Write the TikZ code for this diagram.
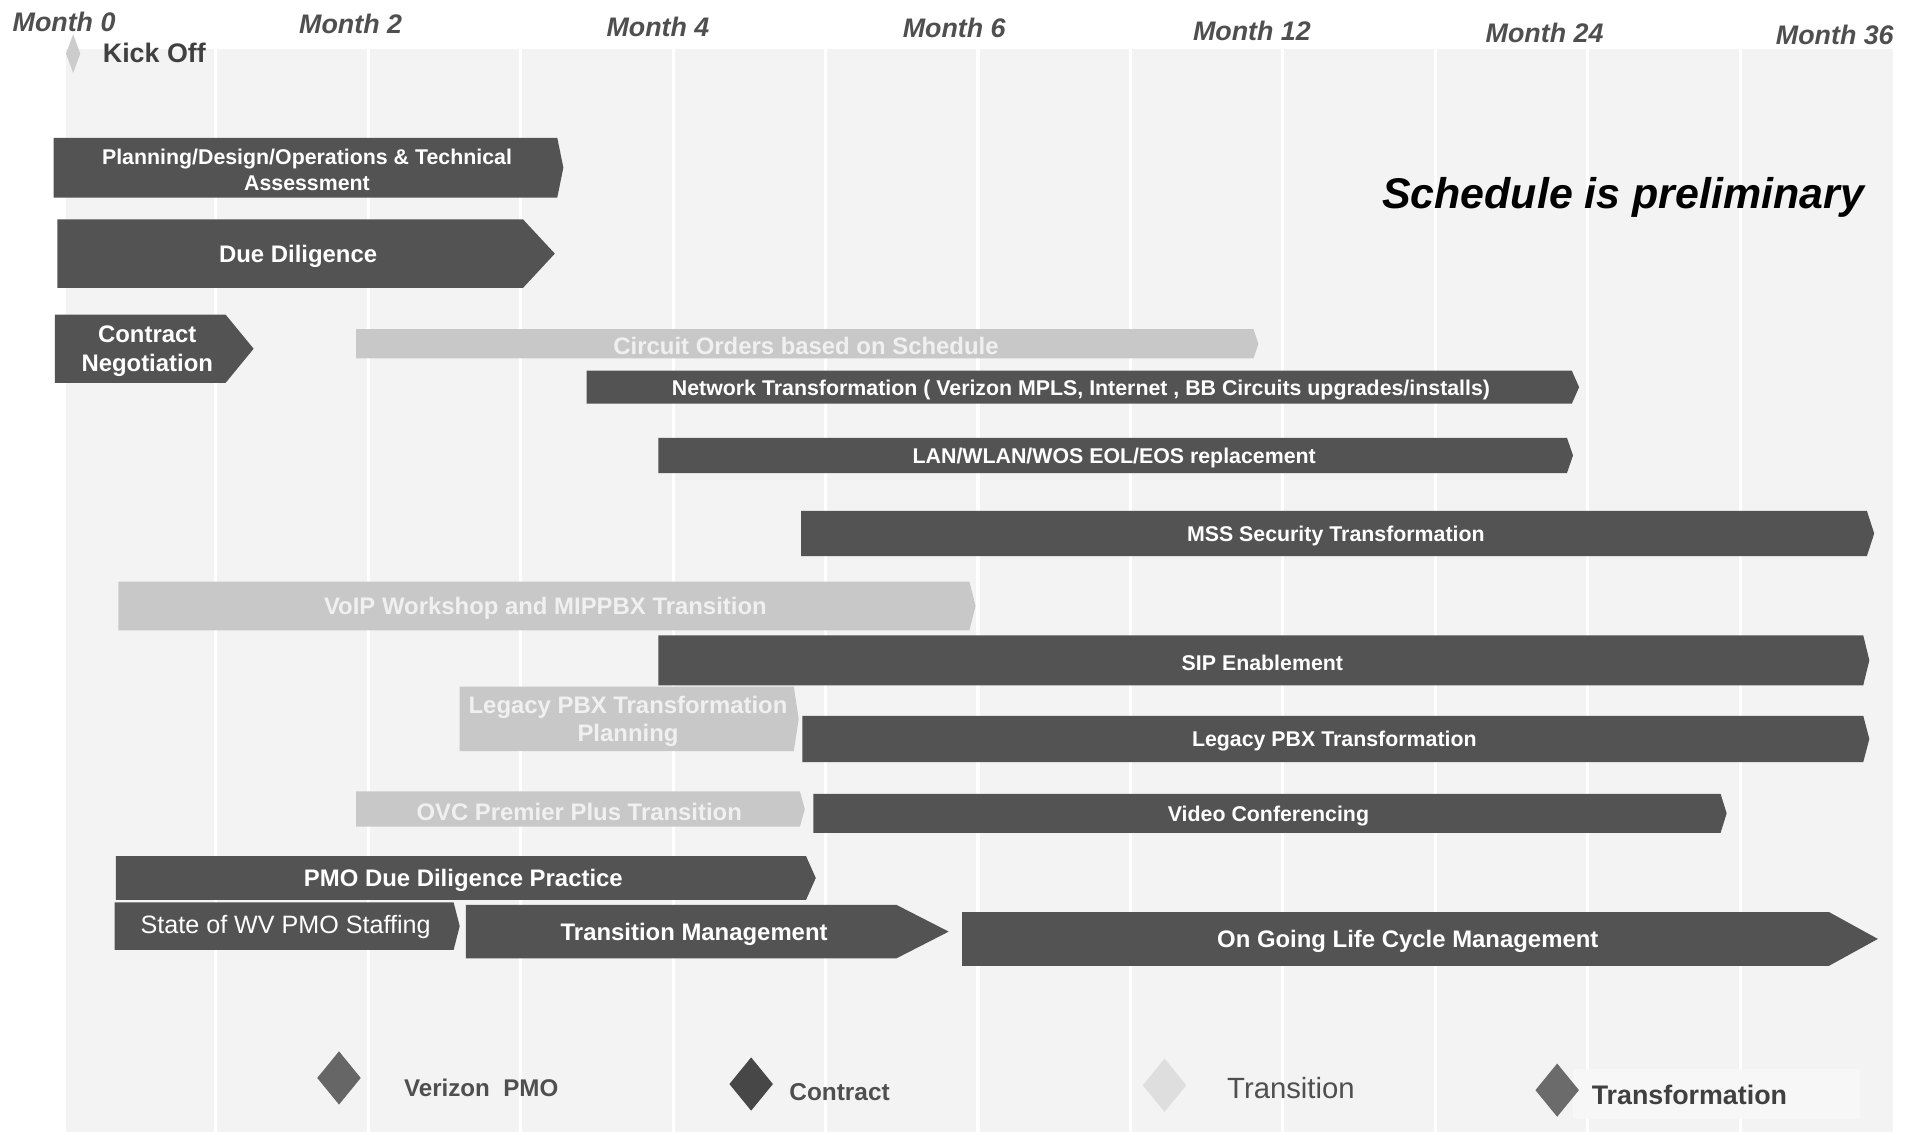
\documentclass[tikz,border=0pt]{standalone}
\usepackage{fontspec}
\setmainfont{Liberation Sans}
\usetikzlibrary{shapes.geometric}
\definecolor{bardark}{HTML}{535353}
\definecolor{barlight}{HTML}{C8C8C8}
\definecolor{gridbg}{HTML}{F3F3F3}
\definecolor{labelgray}{HTML}{4F4F4F}
\newcommand\gbar[9]{%
  \fill[#7] (#2,#4) -- ({#3-#6},#4) -- (#3,{(#4+#5)/2}) -- ({#3-#6},#5) -- (#2,#5) -- cycle;
  \node[#8] (#1) at ({(#2+#3)/2-#6/4},{(#4+#5)/2}) {#9};
}
\begin{document}
\begin{tikzpicture}[x=0.5pt,y=-0.5pt,
  sm/.style={text=white, inner sep=0pt, yshift=-1pt, align=center, font=\bfseries\fontsize{8.75}{10.5}\selectfont},
  lg/.style={text=white, inner sep=0pt, yshift=-1pt, align=center, font=\bfseries\fontsize{9.8}{12}\selectfont},
  lt/.style={lg, text=white!94!black},
  rg/.style={text=white, inner sep=0pt, yshift=-0.5pt, font=\fontsize{10.3}{12}\selectfont},
  month/.style={text=labelgray, inner sep=0pt, anchor=west, font=\bfseries\itshape\fontsize{11}{13}\selectfont},
  legtxt/.style={text=labelgray, inner sep=0pt, anchor=west, font=\bfseries\fontsize{9.9}{12}\selectfont},
  gem/.style={diamond, draw=none, inner sep=0pt, minimum width=18pt, minimum height=22pt}]
\useasboundingbox (0,0) rectangle (1568,930);
\fill[white] (0,0) rectangle (1568,930);
% grid
\fill[gridbg] (54,40) rectangle (1552,928);
\foreach \i in {1,...,11} \draw[white, line width=1.3pt] ({52+125*\i},40) -- ({52+125*\i},928);
% month headers
\node[month] (m0) at (10,18) {Month 0};
\node[month] (m2) at (245,20) {Month 2};
\node[month] (m4) at (497,22) {Month 4};
\node[month] (m6) at (740,23) {Month 6};
\node[month] (m12) at (978,25) {Month 12};
\node[month] (m24) at (1218,27) {Month 24};
\node[month] (m36) at (1456,29) {Month 36};
% kick off
\node[diamond, fill=black!20, inner sep=0pt, minimum width=6pt, minimum height=16pt] (kickd) at (60,44) {};
\node[month, font=\bfseries\fontsize{11}{13}\selectfont, text=black!75] (kick) at (84,43) {Kick Off};
% note
\node[inner sep=0pt, anchor=west, font=\bfseries\itshape\fontsize{17.6}{20}\selectfont] (note) at (1133,162) {Schedule is preliminary};
% bars
\gbar{plan}{44}{462}{113}{162}{5}{bardark}{sm}{Planning/Design/Operations \& Technical\\Assessment}
\gbar{due}{47}{455}{180}{236}{26}{bardark}{lg}{Due Diligence}
\gbar{contract}{45}{208}{258}{314}{23}{bardark}{lg}{Contract\\Negotiation}
\gbar{circuit}{292}{1032}{270}{294}{4}{barlight}{lt}{Circuit Orders based on Schedule}
\gbar{network}{481}{1295}{304}{331}{6}{bardark}{sm}{Network Transformation ( Verizon MPLS, Internet , BB Circuits upgrades/installs)}
\gbar{lan}{540}{1290}{359}{388}{5}{bardark}{sm}{LAN/WLAN/WOS EOL/EOS replacement}
\gbar{mss}{657}{1537}{419}{456}{6}{bardark}{sm}{MSS Security Transformation}
\gbar{voip}{97}{800}{477}{517}{5}{barlight}{lt}{VoIP Workshop and MIPPBX Transition}
\gbar{sip}{540}{1533}{521}{562}{5}{bardark}{sm}{SIP Enablement}
\gbar{lpbxplan}{377}{655}{563}{616}{4}{barlight}{lt, font=\bfseries\fontsize{9.8}{11.5}\selectfont}{Legacy PBX Transformation\\Planning}
\gbar{lpbx}{658}{1533}{587}{625}{5}{bardark}{sm}{Legacy PBX Transformation}
\gbar{ovc}{292}{660}{649}{678}{4}{barlight}{lt}{OVC Premier Plus Transition}
\gbar{video}{667}{1416}{651}{683}{5}{bardark}{sm}{Video Conferencing}
\gbar{pmodd}{95}{669}{702}{738}{8}{bardark}{lg}{PMO Due Diligence Practice}
\gbar{staff}{94}{377}{740}{779}{5}{bardark}{rg}{State of WV PMO Staffing}
\gbar{transmgmt}{382}{778}{742}{786}{43}{bardark}{lg}{Transition Management}
\gbar{ongoing}{789}{1540}{748}{792}{40}{bardark}{lg}{On Going Life Cycle Management}
% legend
\fill[white!35!gridbg] (1290,877) rectangle (1525,918);
\node[gem, fill=black!60] (lgv) at (278,884) {};
\node[legtxt] (lgvt) at (331,892) {Verizon\ \ PMO};
\node[gem, fill=black!72] (lgc) at (616,889) {};
\node[legtxt, font=\bfseries\fontsize{10}{12}\selectfont] (lgct) at (647,896) {Contract};
\node[gem, fill=black!13] (lgt) at (955,890) {};
\node[legtxt, font=\fontsize{12}{14}\selectfont] (lgtt) at (1006,892) {Transition};
\node[gem, fill=black!58] (lgf) at (1277,894) {};
\node[legtxt, text=black!75, font=\bfseries\fontsize{11}{13}\selectfont] (lgft) at (1305,898) {Transformation};
\end{tikzpicture}
\end{document}
